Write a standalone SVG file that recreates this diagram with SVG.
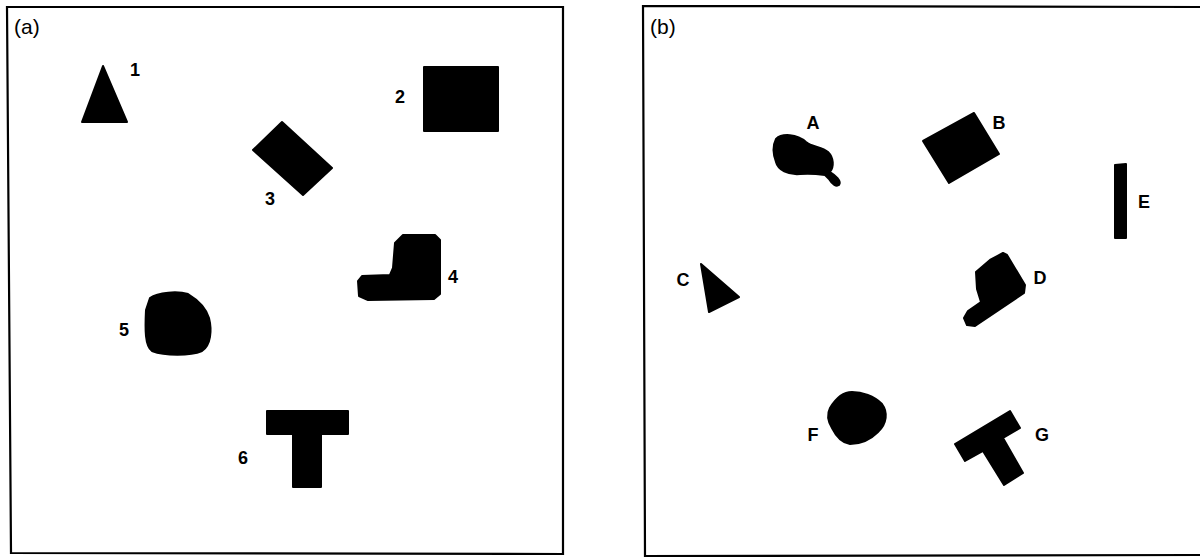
<svg xmlns="http://www.w3.org/2000/svg" width="1200" height="558" viewBox="0 0 1200 558">
<style>
.frame{fill:none;stroke:#000;stroke-width:2.2}
.shape{fill:#000;stroke:#000;stroke-width:2;stroke-linejoin:round}
.lbl{font-family:"Liberation Sans",Arial,sans-serif;font-size:18px;font-weight:bold;fill:#000;text-anchor:middle}
.panel{font-family:"Liberation Sans",Arial,sans-serif;font-size:21px;fill:#000}
</style>
<rect width="1200" height="558" fill="#fff"/>
<g id="panel-a">
<path class="frame" d="M563,7 L7,7 L11,553 L563,554 Z"/>
<text class="panel" x="14" y="34">(a)</text>
</g>
<g id="panel-b">
<path class="frame" d="M1202,7 L643,6 L645,556 L1202,555"/>
<text class="panel" x="650" y="34">(b)</text>
</g>
<g id="node-1">
<polygon class="shape" points="103,66 127,122 82,122"/>
<text class="lbl" x="135" y="76">1</text>
</g>
<g id="node-2">
<rect class="shape" x="424" y="67" width="74" height="64"/>
<text class="lbl" x="400" y="103">2</text>
</g>
<g id="node-3">
<polygon class="shape" points="282,122 332,168 303,195 253,150"/>
<text class="lbl" x="270" y="205">3</text>
</g>
<g id="node-4">
<path class="shape" d="M403,235 L435,235 L440,240 L440,294 L434,299 L368,300 L359,296 L358,281 L362,276 L390,275 L393,268 L395,243 Z"/>
<text class="lbl" x="453" y="283">4</text>
</g>
<g id="node-5">
<path class="shape" d="M150,298 C158,292 178,291 188,294 C198,300 206,308 209,318 C212,330 211,345 202,351 C190,356 165,356 152,351 C145,346 145,330 146,310 Z"/>
<text class="lbl" x="124" y="336">5</text>
</g>
<g id="node-6">
<path class="shape" d="M267,411 L348,411 L348,434 L321,434 L321,487 L293,487 L293,434 L267,434 Z"/>
<text class="lbl" x="243" y="464">6</text>
</g>
<g id="node-A">
<path class="shape" d="M776,139 C782,133 797,134 806,142 C812,147 822,147 828,152 C834,158 834,167 830,172 C835,175 842,181 839,185 C836,187 832,184 829,179 L825,175 C818,174 810,173 800,174 C788,175 778,170 776,162 C773,154 773,145 776,139 Z"/>
<text class="lbl" x="813" y="129">A</text>
</g>
<g id="node-B">
<polygon class="shape" points="974,113 999,154 949,183 923,141"/>
<text class="lbl" x="999" y="129">B</text>
</g>
<g id="node-C">
<polygon class="shape" points="701,264 739,297 709,312"/>
<text class="lbl" x="683" y="286">C</text>
</g>
<g id="node-D">
<path class="shape" d="M1003,253 L1007,255 L1025,285 L1024,293 L975,326 L967,325 L964,318 L968,311 L981,302 L977,289 L976,272 L990,260 Z"/>
<text class="lbl" x="1040" y="284">D</text>
</g>
<g id="node-E">
<path class="shape" d="M1115,165 L1126,164 L1126,238 L1115,238 Z"/>
<text class="lbl" x="1144" y="208">E</text>
</g>
<g id="node-F">
<path class="shape" d="M830,408 C836,398 843,392 852,392 C862,392 874,396 882,404 C888,412 887,424 878,432 C870,440 860,444 850,444 C842,443 836,436 832,428 C827,420 827,414 830,408 Z"/>
<text class="lbl" x="813" y="441">F</text>
</g>
<g id="node-G">
<polygon class="shape" points="955,444 1010,411 1020,428 1003,438 1023,473 1004,485 983,451 965,461"/>
<text class="lbl" x="1042" y="441">G</text>
</g>
</svg>
